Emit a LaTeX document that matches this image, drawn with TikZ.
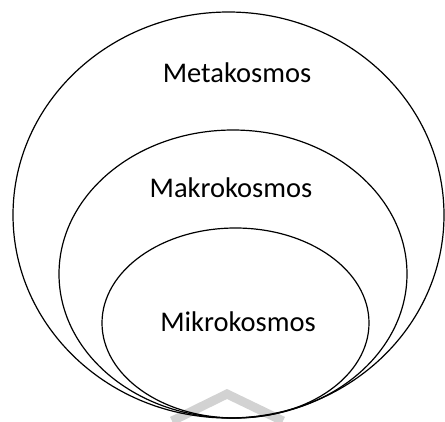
\documentclass[tikz,border=0pt]{standalone}
\usepackage{fontspec}
\setmainfont{Carlito}
\usetikzlibrary{shapes.geometric}
\newcommand{\epais}{1.2pt}

\begin{document}
\begin{tikzpicture}[x=1pt,y=-1pt]
        \useasboundingbox (0,0) rectangle (445,421);
        \draw[line width=9pt,color=gray!35] (172,421) -- (227,394) -- (283,421);
        \node[draw,ellipse,line width=\epais,inner sep=0pt,minimum width=431pt,minimum height=406pt] (meta) at (228.5,215) {} ;
        \node[draw,ellipse,line width=\epais,inner sep=0pt,minimum width=348pt,minimum height=288pt] (makro) at (233,274) {} ;
        \node[draw,ellipse,line width=\epais,inner sep=0pt,minimum width=267pt,minimum height=190pt] (mikro) at (235.5,323) {} ;
        \node[font=\fontsize{28.5}{34}\selectfont] (tmeta) at (237,73) {Metakosmos} ;
        \node[font=\fontsize{28.5}{34}\selectfont] (tmakro) at (231,188) {Makrokosmos} ;
        \node[font=\fontsize{28.5}{34}\selectfont] (tmikro) at (238,322) {Mikrokosmos} ;
\end{tikzpicture}
\end{document}
